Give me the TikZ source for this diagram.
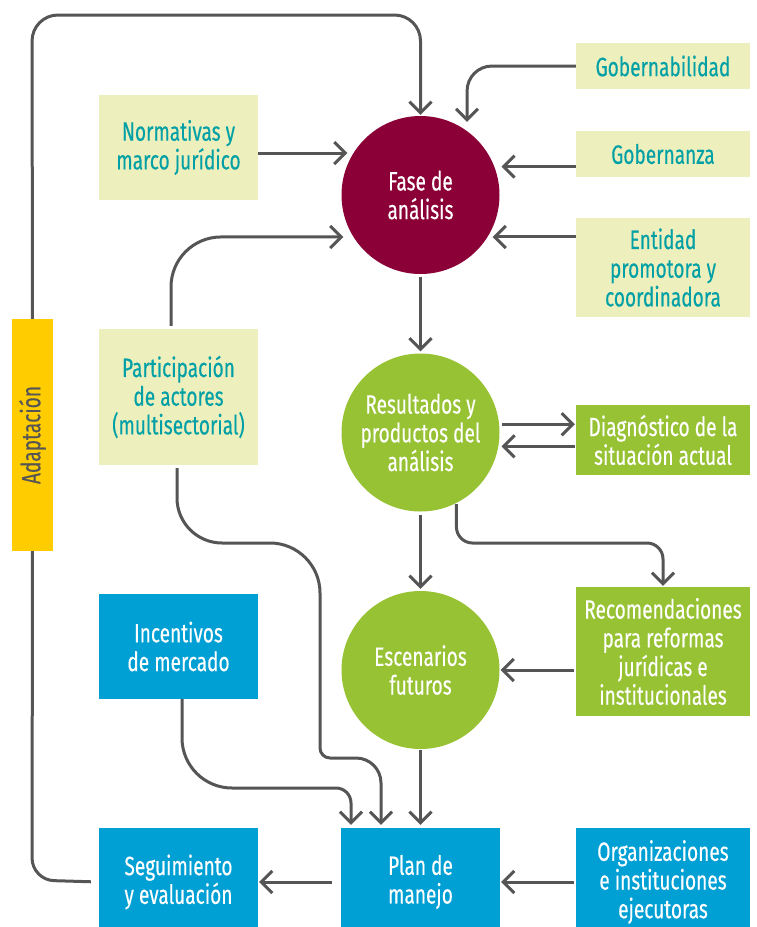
\documentclass[tikz,border=0pt]{standalone}
\usepackage{fontspec}
\setmainfont{Fira Sans}[FakeStretch=0.72,FakeBold=0.3]
\usetikzlibrary{arrows.meta,calc}
\definecolor{maroon}{RGB}{139,0,54}
\definecolor{leaf}{RGB}{151,194,51}
\definecolor{sky}{RGB}{0,159,212}
\definecolor{pale}{RGB}{237,240,188}
\definecolor{teal}{RGB}{0,160,166}
\definecolor{gold}{RGB}{255,204,0}
\definecolor{wire}{RGB}{85,85,85}
\begin{document}
\begin{tikzpicture}[x=1pt,y=-1pt,
  every node/.style={font=\fontsize{26.5}{28.7}\selectfont, align=center, inner sep=0pt},
  palebox/.style={rectangle, fill=pale, text=teal},
  greenbox/.style={rectangle, fill=leaf, text=white},
  bluebox/.style={rectangle, fill=sky, text=white},
  roundnode/.style={circle, minimum size=158pt, text=white},
  arr/.style={draw=wire, line width=3pt, -{Straight Barb[length=11pt,width=22pt,line width=3pt]}},
  wireline/.style={draw=wire, line width=3pt}
]
\useasboundingbox (0,0) rectangle (756,927);

% nodes
\node[palebox, minimum width=159pt, minimum height=105pt] (norm) at (178.5,147.5) {Normativas y\\marco jurídico};
\node[palebox, minimum width=174pt, minimum height=46pt] (gobl) at (663,66) {Gobernabilidad};
\node[palebox, minimum width=174pt, minimum height=46pt] (gobz) at (663,154) {Gobernanza};
\node[palebox, minimum width=174pt, minimum height=99pt] (ent) at (663,267.5) {Entidad\\promotora y\\coordinadora};
\node[palebox, minimum width=159pt, minimum height=136pt] (part) at (178.5,397) {Participación\\de actores\\(multisectorial)};
\node[greenbox, minimum width=174pt, minimum height=70pt] (diag) at (663,440) {Diagnóstico de la\\situación actual};
\node[greenbox, minimum width=174pt, minimum height=129pt] (rec) at (663,651.5) {Recomendaciones\\para reformas\\jurídicas e\\institucionales};
\node[bluebox, minimum width=159pt, minimum height=105pt] (inc) at (178.5,646.5) {Incentivos\\de mercado};
\node[bluebox, minimum width=159pt, minimum height=108pt] (seg) at (178.5,882) {Seguimiento\\y evaluación};
\node[bluebox, minimum width=159pt, minimum height=108pt] (plan) at (420.5,882) {Plan de\\manejo};
\node[bluebox, minimum width=174pt, minimum height=108pt] (org) at (663,882) {Organizaciones\\e instituciones\\ejecutoras};
\node[rectangle, fill=gold, minimum width=41pt, minimum height=232pt] (adap) at (32.5,435) {};
\node[text=wire, rotate=90] (adaptxt) at (adap.center) {Adaptación};
\node[roundnode, fill=maroon] (fase) at (420.5,195) {Fase de\\análisis};
\node[roundnode, fill=leaf] (res) at (420.5,432.5) {Resultados y\\productos del\\análisis};
\node[roundnode, fill=leaf] (esc) at (420.5,670) {Escenarios\\futuros};

% free bend points
\coordinate (topl) at (32,15);
\coordinate (botl) at (32,880);

% connectors
\draw[arr, rounded corners=26pt, shorten >=1pt] (adap.north) -- (topl) -- (topl -| fase.north) -- (fase.north);
\draw[wireline, rounded corners=22pt, shorten <=8pt] (seg.west) -- (botl) -- (adap.south);
\draw[arr, shorten >=6pt] (norm.east |- fase.148) -- (fase.148);
\draw[arr, rounded corners=25pt, shorten >=9pt] (gobl.west) -- (gobl.west -| fase.54) -- (fase.54);
\draw[arr, shorten >=7pt] (gobz.west |- fase.21.5) -- (fase.21.5);
\draw[arr, shorten >=5pt] (ent.west |- fase.-32) -- (fase.-32);
\draw[arr, rounded corners=50pt, shorten <=3pt, shorten >=10pt] ([xshift=-7.5pt]part.north) -- ([xshift=-7.5pt]part.north |- fase.212) -- (fase.212);
\draw[arr, shorten <=3pt, shorten >=2pt] (fase.south) -- (res.north);
\draw[arr, shorten <=3pt, shorten >=2pt] (res.south) -- (esc.north);
\draw[arr, shorten <=3pt, shorten >=1pt] (res.6) -- (diag.west |- res.6);
\draw[arr, shorten <=1pt, shorten >=3pt] (diag.west |- res.-10) -- (res.-10);
\draw[arr, rounded corners=16pt, shorten <=1pt, shorten >=1pt] (res.-63) -- (res.-63 |- 0,543) -- (rec.north |- 0,543) -- (rec.north);
\draw[arr, shorten <=2pt, shorten >=1pt] (rec.west |- esc.east) -- (esc.east);
\draw[arr, shorten <=1pt, shorten >=3pt] (esc.south) -- (plan.north);
\draw[arr, shorten <=2pt, shorten >=1pt] (org.west) -- (plan.east);
\draw[arr, shorten <=9pt, shorten >=1pt] (plan.west) -- (seg.east);
\draw[arr, shorten >=3pt] ([xshift=3.5pt]inc.south) [rounded corners=50pt] -- ([xshift=3.5pt]inc.south |- 0,788) [rounded corners=15pt] -- ([xshift=-69.5pt]plan.north |- 0,788) -- ([xshift=-69.5pt]plan.north);
\draw[arr, shorten <=3pt, shorten >=3pt] ([xshift=-1.5pt]part.south) [rounded corners=45pt] -- ([xshift=-1.5pt]part.south |- 0,543) [rounded corners=50pt] -- (320,543) [rounded corners=10pt] -- (320,758) [rounded corners=25pt] -- ([xshift=-39.5pt]plan.north |- 0,758) -- ([xshift=-39.5pt]plan.north);
\end{tikzpicture}
\end{document}
